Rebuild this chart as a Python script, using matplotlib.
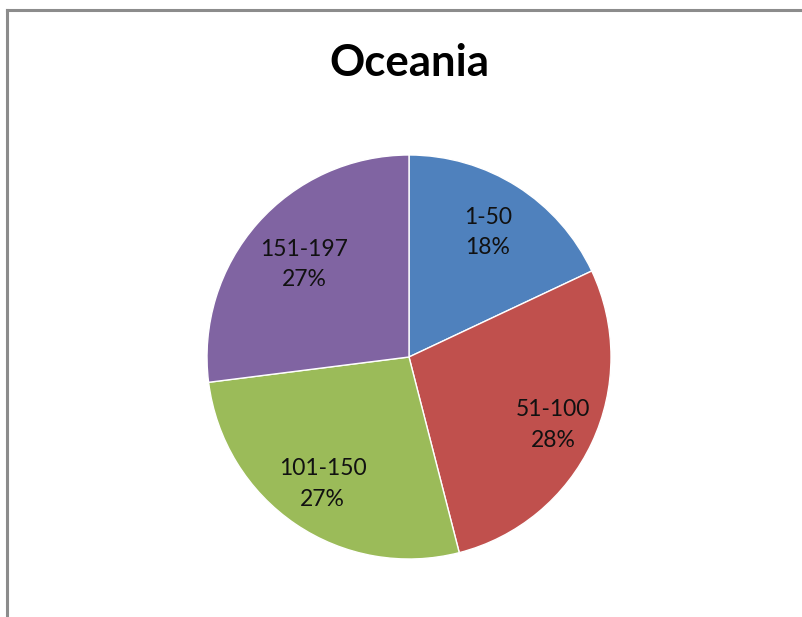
import numpy as np
import matplotlib
matplotlib.use("Agg")
import matplotlib.pyplot as plt
from matplotlib.lines import Line2D

# data
categories = ["1-50", "51-100", "101-150", "151-197"]
shares = [18, 28, 27, 27]
colors = ["#4F81BD", "#C0504D", "#9BBB59", "#8064A2"]
title = "Oceania"

# how far out each label sits (fraction of radius)
label_r = [0.73, 0.79, 0.76, 0.69]

plt.rcParams["font.family"] = ["Lato", "DejaVu Sans"]

fig = plt.figure(figsize=(8.03, 6.17), dpi=100)
ax = fig.add_axes([0.2578, 0.0940, 0.5031, 0.6548])

wedges, _ = ax.pie(shares, colors=colors, startangle=90, counterclock=False,
                   radius=1.0, wedgeprops=dict(edgecolor="white", linewidth=1))
ax.set_xlim(-1, 1)
ax.set_ylim(-1, 1)
ax.set_aspect("auto")
ax.axis("off")

total = sum(shares)
for w, cat, val, r in zip(wedges, categories, shares, label_r):
    mid = np.deg2rad((w.theta1 + w.theta2) / 2)
    ax.text(r * np.cos(mid), r * np.sin(mid), f"{cat}\n{val / total * 100:.0f}%",
            ha="center", va="center", fontsize=16.5, color="#111111", linespacing=1.55)

fig.text(0.5093, 1 - 76 / 617, title, ha="center", va="baseline",
         fontsize=31.5, fontweight="bold")

# chart frame (only top and left edges visible)
frame = dict(color="#8c8c8c", linewidth=2.2, transform=fig.transFigure)
fig.add_artist(Line2D([7 / 803, 1], [1 - 10 / 617, 1 - 10 / 617], **frame))
fig.add_artist(Line2D([7 / 803, 7 / 803], [0, 1 - 10 / 617], **frame))

fig.savefig("out.png", dpi=100)
